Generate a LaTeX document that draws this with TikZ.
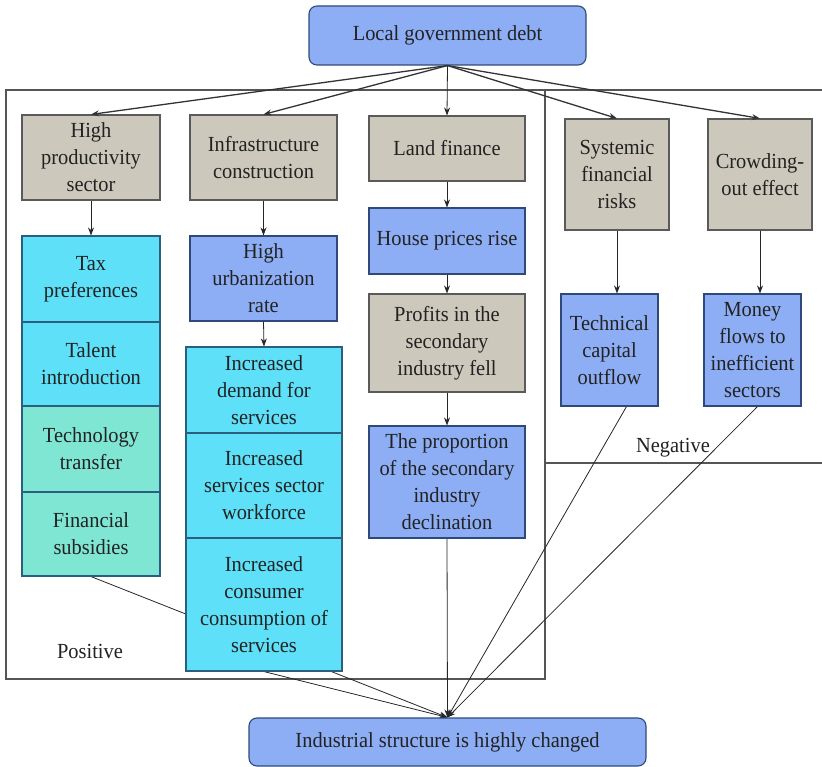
\documentclass[tikz,border=0pt]{standalone}
\usepackage{fontspec}
\setmainfont{Liberation Serif}[FakeStretch=0.95]
\usetikzlibrary{arrows.meta,calc}
\pgfdeclarelayer{background}
\pgfsetlayers{background,main}
\definecolor{grayfill}{HTML}{CCC8BB}
\definecolor{grayline}{HTML}{5A5A5A}
\definecolor{bluefill}{HTML}{8DAEF4}
\definecolor{blueline}{HTML}{2F4A7A}
\definecolor{cyanfill}{HTML}{5DE0F8}
\definecolor{cyanline}{HTML}{2A5F80}
\definecolor{tealfill}{HTML}{80E6D4}
\definecolor{frameline}{HTML}{555555}
\definecolor{txt}{HTML}{222222}
\begin{document}
\begin{tikzpicture}[x=1pt,y=-1pt,
  every node/.style={font=\fontsize{21.5}{27}\selectfont, text=txt, align=center, inner sep=0pt},
  box/.style={draw, line width=1.1pt, anchor=center},
  graybox/.style={box, fill=grayfill, draw=grayline},
  bluebox/.style={box, fill=bluefill, draw=blueline},
  cyanbox/.style={box, fill=cyanfill, draw=cyanline},
  tealbox/.style={box, fill=tealfill, draw=cyanline},
  roundbox/.style={bluebox, rounded corners=8pt},
  arr/.style={-{Stealth[length=8pt,width=6pt]}, line width=0.8pt, draw=black!85},
  toparr/.style={arr, line width=1.3pt, draw=black!80},
  frame/.style={line width=1.1pt, draw=frameline}]
\useasboundingbox (0,0) rectangle (822,767);

% top
\node[roundbox, minimum width=277pt, minimum height=59pt] (top) at (447.5,35.5) {Local government debt};

% first row
\node[graybox, minimum width=138pt, minimum height=85pt] (hp) at (91,157.5) {High\\productivity\\sector};
\node[graybox, minimum width=147pt, minimum height=85pt] (infra) at (263.5,157.5) {Infrastructure\\construction};
\node[graybox, minimum width=156pt, minimum height=65pt] (land) at (447,148.5) {Land finance};
\node[graybox, minimum width=104pt, minimum height=111pt] (sys) at (617,174.5) {Systemic\\financial\\risks};
\node[graybox, minimum width=104pt, minimum height=111pt] (crowd) at (760,174.5) {Crowding-\\out effect};

% column 1
\node[cyanbox, minimum width=138pt, minimum height=86pt] (tax) at (91,279) {Tax\\preferences};
\node[cyanbox, minimum width=138pt, minimum height=84pt] (talent) at (91,364) {Talent\\introduction};
\node[tealbox, minimum width=138pt, minimum height=86pt] (techtr) at (91,449) {Technology\\transfer};
\node[tealbox, minimum width=138pt, minimum height=84pt] (finsub) at (91,534) {Financial\\subsidies};

% column 2
\node[bluebox, minimum width=147pt, minimum height=85pt] (urb) at (263.5,278.5) {High\\urbanization\\rate};
\node[cyanbox, minimum width=156pt, minimum height=86pt] (demand) at (264,390) {Increased\\demand for\\services};
\node[cyanbox, minimum width=156pt, minimum height=105pt] (work) at (264,485.5) {Increased\\services sector\\workforce};
\node[cyanbox, minimum width=156pt, minimum height=133pt] (cons) at (264,604.5) {Increased\\consumer\\consumption of\\services};

% column 3
\node[bluebox, minimum width=156pt, minimum height=66pt] (house) at (447,241) {House prices rise};
\node[graybox, minimum width=156pt, minimum height=98pt] (profits) at (447,343) {Profits in the\\secondary\\industry fell};
\node[bluebox, minimum width=156pt, minimum height=112pt] (prop) at (447,482) {The proportion\\of the secondary\\industry\\declination};

% negative column
\node[bluebox, minimum width=97pt, minimum height=112pt] (tech) at (609.5,350) {Technical\\capital\\outflow};
\node[bluebox, minimum width=97pt, minimum height=112pt] (money) at (752.5,350) {Money\\flows to\\inefficient\\sectors};

% bottom
\node[roundbox, minimum width=397pt, minimum height=48pt] (bot) at (447.5,742) {Industrial structure is highly changed};

% labels
\node (pos) at (90,651) {Positive};
\node (neg) at (673,448) {Negative};

\begin{pgfonlayer}{background}
  % frames
  \draw[frame] (6,90) rectangle (545,679);
  \draw[frame] (545,90) -- (822,90);
  \draw[frame] (545,463) -- (822,463);
  % to bottom
  \draw[arr] (finsub.south) -- (bot.north);
  \draw[arr] (cons.south) -- (bot.north);
  \draw[arr] (prop.south) -- (bot.north);
  \draw[arr] ($(tech.south)+(17,0)$) -- (bot.north);
  \draw[arr] ($(money.south)+(5,0)$) -- (bot.north);
\end{pgfonlayer}

% from top
\draw[toparr] (top.south) -- (hp.north);
\draw[toparr] (top.south) -- (infra.north);
\draw[arr] (top.south) -- (land.north);
\draw[toparr] (top.south) -- (sys.north);
\draw[toparr] (top.south) -- (crowd.north);

% vertical chains
\draw[arr] (hp.south) -- (tax.north);
\draw[arr] (infra.south) -- (urb.north);
\draw[arr] (urb.south) -- (demand.north);
\draw[arr] (land.south) -- (house.north);
\draw[arr] (house.south) -- (profits.north);
\draw[arr] (profits.south) -- (prop.north);
\draw[arr] (sys.south) -- (sys.south |- tech.north);
\draw[arr] (crowd.south) -- (crowd.south |- money.north);
\end{tikzpicture}
\end{document}
